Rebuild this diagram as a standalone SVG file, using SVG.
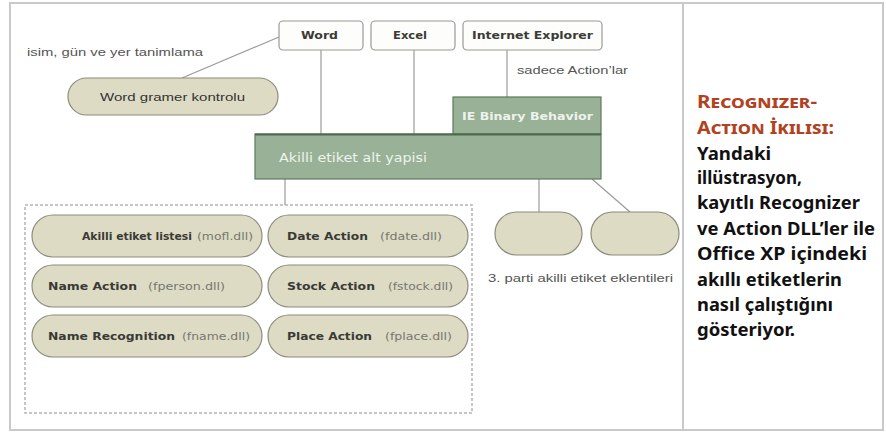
<svg xmlns="http://www.w3.org/2000/svg" width="886" height="432" viewBox="0 0 886 432">
<style>
.frame{fill:#fff;stroke:#c9c9c9;stroke-width:2}
.box{fill:#fdfdfb;stroke:#9a9a94;stroke-width:1.2}
.pill{fill:#dddbc4;stroke:#8d8c7c;stroke-width:1.2}
.green{fill:#98b197;stroke:#5d7a5c;stroke-width:1.2}
.line{stroke:#9a9a9a;stroke-width:1.2;fill:none}
.dash{fill:none;stroke:#b4b4b4;stroke-width:1.5;stroke-dasharray:3 2}
.b{font-family:"DejaVu Sans",Verdana,sans-serif;font-weight:bold;font-size:10px;fill:#3a3a36}
.l{font-family:"DejaVu Sans",Verdana,sans-serif;font-size:10px;fill:#77776f}
.r{font-family:"Liberation Sans",Arial,sans-serif;font-size:11px;fill:#555}
.w{font-family:"DejaVu Sans",Verdana,sans-serif;font-weight:bold;fill:#eef3ec}
.h{font-family:"Noto Sans","Open Sans",sans-serif;font-weight:bold;font-size:17px;fill:#b2421f;font-variant:small-caps}
.t{font-family:"Noto Sans","Open Sans",sans-serif;font-weight:bold;font-size:17px;fill:#111}
</style>
<rect class="frame" x="10" y="3" width="873" height="427"/>
<line x1="683" y1="3" x2="683" y2="430" stroke="#c9c9c9" stroke-width="2"/>

<g id="connectors">
<line class="line" x1="182" y1="78" x2="279" y2="37"/>
<line class="line" x1="321" y1="50" x2="321" y2="134"/>
<line class="line" x1="414" y1="50" x2="414" y2="134"/>
<line class="line" x1="507" y1="50" x2="507" y2="97"/>
<line class="line" x1="285" y1="179" x2="285" y2="205"/>
<line class="line" x1="539" y1="179" x2="539" y2="212"/>
<line class="line" x1="592" y1="179" x2="630" y2="212"/>
</g>

<g id="label-isim"><text class="r" x="27" y="56" textLength="176" lengthAdjust="spacingAndGlyphs">isim, gün ve yer tanimlama</text></g>
<g id="label-sadece"><text class="r" x="517" y="74" textLength="111" lengthAdjust="spacingAndGlyphs">sadece Action’lar</text></g>

<g id="word"><rect class="box" x="279" y="21" width="84" height="29" rx="4"/><text class="b" x="301" y="39" textLength="37" lengthAdjust="spacingAndGlyphs">Word</text></g>
<g id="excel"><rect class="box" x="371" y="21" width="84" height="29" rx="4"/><text class="b" x="393" y="39" textLength="34" lengthAdjust="spacingAndGlyphs">Excel</text></g>
<g id="ie"><rect class="box" x="463" y="21" width="139" height="29" rx="4"/><text class="b" x="472" y="39" textLength="121" lengthAdjust="spacingAndGlyphs">Internet Explorer</text></g>

<g id="word-gramer"><rect class="pill" x="68" y="78" width="210" height="37" rx="18.5"/><text class="r" x="100" y="101" fill="#333" style="fill:#333" textLength="145" lengthAdjust="spacingAndGlyphs">Word gramer kontrolu</text></g>

<g id="ie-binary"><rect class="green" x="453" y="97" width="148" height="37"/><text class="w" x="462" y="120" font-size="10" textLength="131" lengthAdjust="spacingAndGlyphs">IE Binary Behavior</text></g>
<g id="akilli-alt-yapi"><rect class="green" x="255" y="134" width="346" height="45"/><line x1="255" y1="134.5" x2="601" y2="134.5" stroke="#4f6a4e" stroke-width="2"/><text class="w" x="279" y="162" font-size="12" style="font-weight:normal" textLength="148" lengthAdjust="spacingAndGlyphs">Akilli etiket alt yapisi</text></g>

<rect class="dash" x="25" y="205" width="447" height="208"/>

<g id="akilli-liste"><rect class="pill" x="32" y="215" width="230" height="42" rx="21"/><text class="b" x="82" y="240" textLength="110" lengthAdjust="spacingAndGlyphs">Akilli etiket listesi</text><text class="l" x="197" y="240" textLength="56" lengthAdjust="spacingAndGlyphs">(mofl.dll)</text></g>
<g id="name-action"><rect class="pill" x="32" y="265" width="230" height="42" rx="21"/><text class="b" x="48" y="290" textLength="89" lengthAdjust="spacingAndGlyphs">Name Action</text><text class="l" x="148" y="290" textLength="77" lengthAdjust="spacingAndGlyphs">(fperson.dll)</text></g>
<g id="name-recognition"><rect class="pill" x="32" y="315" width="230" height="42" rx="21"/><text class="b" x="48" y="340" textLength="127" lengthAdjust="spacingAndGlyphs">Name Recognition</text><text class="l" x="182" y="340" textLength="68" lengthAdjust="spacingAndGlyphs">(fname.dll)</text></g>
<g id="date-action"><rect class="pill" x="268" y="215" width="200" height="42" rx="21"/><text class="b" x="287" y="240" textLength="81" lengthAdjust="spacingAndGlyphs">Date Action</text><text class="l" x="380" y="240" textLength="62" lengthAdjust="spacingAndGlyphs">(fdate.dll)</text></g>
<g id="stock-action"><rect class="pill" x="268" y="265" width="200" height="42" rx="21"/><text class="b" x="287" y="290" textLength="88" lengthAdjust="spacingAndGlyphs">Stock Action</text><text class="l" x="388" y="290" textLength="65" lengthAdjust="spacingAndGlyphs">(fstock.dll)</text></g>
<g id="place-action"><rect class="pill" x="268" y="315" width="200" height="42" rx="21"/><text class="b" x="287" y="340" textLength="85" lengthAdjust="spacingAndGlyphs">Place Action</text><text class="l" x="385" y="340" textLength="67" lengthAdjust="spacingAndGlyphs">(fplace.dll)</text></g>

<g id="parti-1"><rect class="pill" x="495" y="212" width="87" height="43" rx="21.5"/></g>
<g id="parti-2"><rect class="pill" x="591" y="212" width="88" height="43" rx="21.5"/></g>
<g id="label-parti"><text class="r" x="488" y="282" textLength="185" lengthAdjust="spacingAndGlyphs">3. parti akilli etiket eklentileri</text></g>

<g id="caption">
<text class="h" x="697" y="108" textLength="120" lengthAdjust="spacingAndGlyphs">Recognizer-</text>
<text class="h" x="697" y="134" textLength="137" lengthAdjust="spacingAndGlyphs">Action İkilisi:</text>
<text class="t" x="697" y="160" textLength="74" lengthAdjust="spacingAndGlyphs">Yandaki</text>
<text class="t" x="697" y="184" textLength="105" lengthAdjust="spacingAndGlyphs">illüstrasyon,</text>
<text class="t" x="697" y="209" textLength="163" lengthAdjust="spacingAndGlyphs">kayıtlı Recognizer</text>
<text class="t" x="697" y="235" textLength="178" lengthAdjust="spacingAndGlyphs">ve Action DLL’ler ile</text>
<text class="t" x="697" y="260" textLength="170" lengthAdjust="spacingAndGlyphs">Office XP içindeki</text>
<text class="t" x="697" y="286" textLength="145" lengthAdjust="spacingAndGlyphs">akıllı etiketlerin</text>
<text class="t" x="697" y="311" textLength="136" lengthAdjust="spacingAndGlyphs">nasıl çalıştığını</text>
<text class="t" x="697" y="336" textLength="98" lengthAdjust="spacingAndGlyphs">gösteriyor.</text>
</g>
</svg>
